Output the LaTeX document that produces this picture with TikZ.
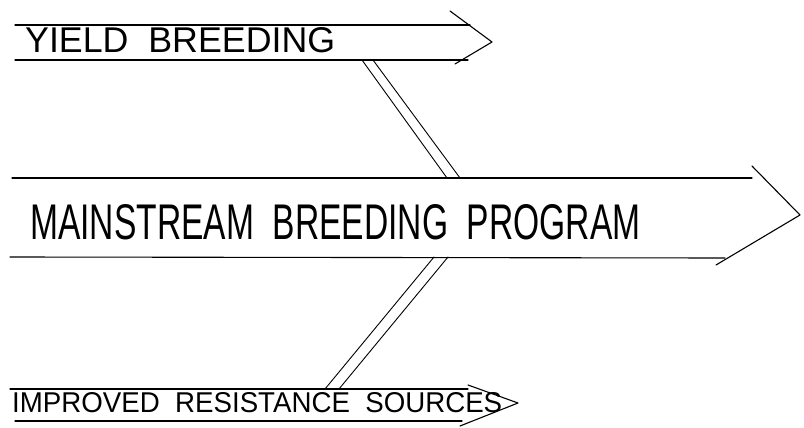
\documentclass[tikz,border=0pt]{standalone}
\usepackage{fontspec}
\setmainfont{Liberation Sans}
\tikzset{
  ln/.style={line width=1.1pt, black, line cap=round, line join=round},
  lbl/.style={inner sep=0pt, anchor=west},
}
\begin{document}
\begin{tikzpicture}[x=1pt,y=-1pt]
\useasboundingbox (0,0) rectangle (804,428);
% --- yield breeding arrow
\coordinate (y1) at (15,25);
\coordinate (y2) at (470,25);
\coordinate (y3) at (15,60);
\coordinate (y4) at (468,60);
\coordinate (yh1) at (450,11);
\coordinate (ytip) at (492,42);
\coordinate (yh2) at (455,64);
\draw[ln] (y1) -- (y2);
\draw[ln] (y3) -- (y4);
\draw[ln] (yh1) -- (ytip) -- (yh2);
\node[lbl] (yield) at (25,40.5) {\resizebox{310pt}{25pt}{YIELD\ \ BREEDING}};
% --- main arrow
\coordinate (m1) at (12,178);
\coordinate (m2) at (752,178);
\coordinate (m3) at (10,257);
\coordinate (m4) at (725,258);
\coordinate (mh1) at (752,166);
\coordinate (mtip) at (800,215);
\coordinate (mh2) at (716,265);
\draw[ln] (m1) -- (m2);
\draw[ln] (m3) -- (m4);
\draw[ln] (mh1) -- (mtip) -- (mh2);
\node[lbl] (main) at (30,222) {\resizebox{610pt}{35pt}{MAINSTREAM\ \ BREEDING\ \ PROGRAM}};
% --- resistance arrow
\coordinate (r1) at (10,389);
\coordinate (r2) at (468,389);
\coordinate (r3) at (15,421);
\coordinate (r4) at (462,421);
\coordinate (rh1) at (468,385);
\coordinate (rtip) at (518,403);
\coordinate (rh2) at (460,426);
\draw[ln] (r1) -- (r2);
\draw[ln] (r3) -- (r4);
\draw[ln] (rh1) -- (rtip) -- (rh2);
\node[lbl] (res) at (12,403) {\resizebox{490pt}{20pt}{IMPROVED\ \ RESISTANCE\ \ SOURCES}};
% --- double connectors
\coordinate (ca1) at (362,60);
\coordinate (ca2) at (447,178);
\coordinate (cb1) at (373,60);
\coordinate (cb2) at (460,178);
\draw[ln, line width=0.9pt] (ca1) -- (ca2);
\draw[ln, line width=0.9pt] (cb1) -- (cb2);
\coordinate (da1) at (434,257);
\coordinate (da2) at (325,389);
\coordinate (db1) at (448,257);
\coordinate (db2) at (339,389);
\draw[ln, line width=0.9pt] (da1) -- (da2);
\draw[ln, line width=0.9pt] (db1) -- (db2);
\end{tikzpicture}
\end{document}
